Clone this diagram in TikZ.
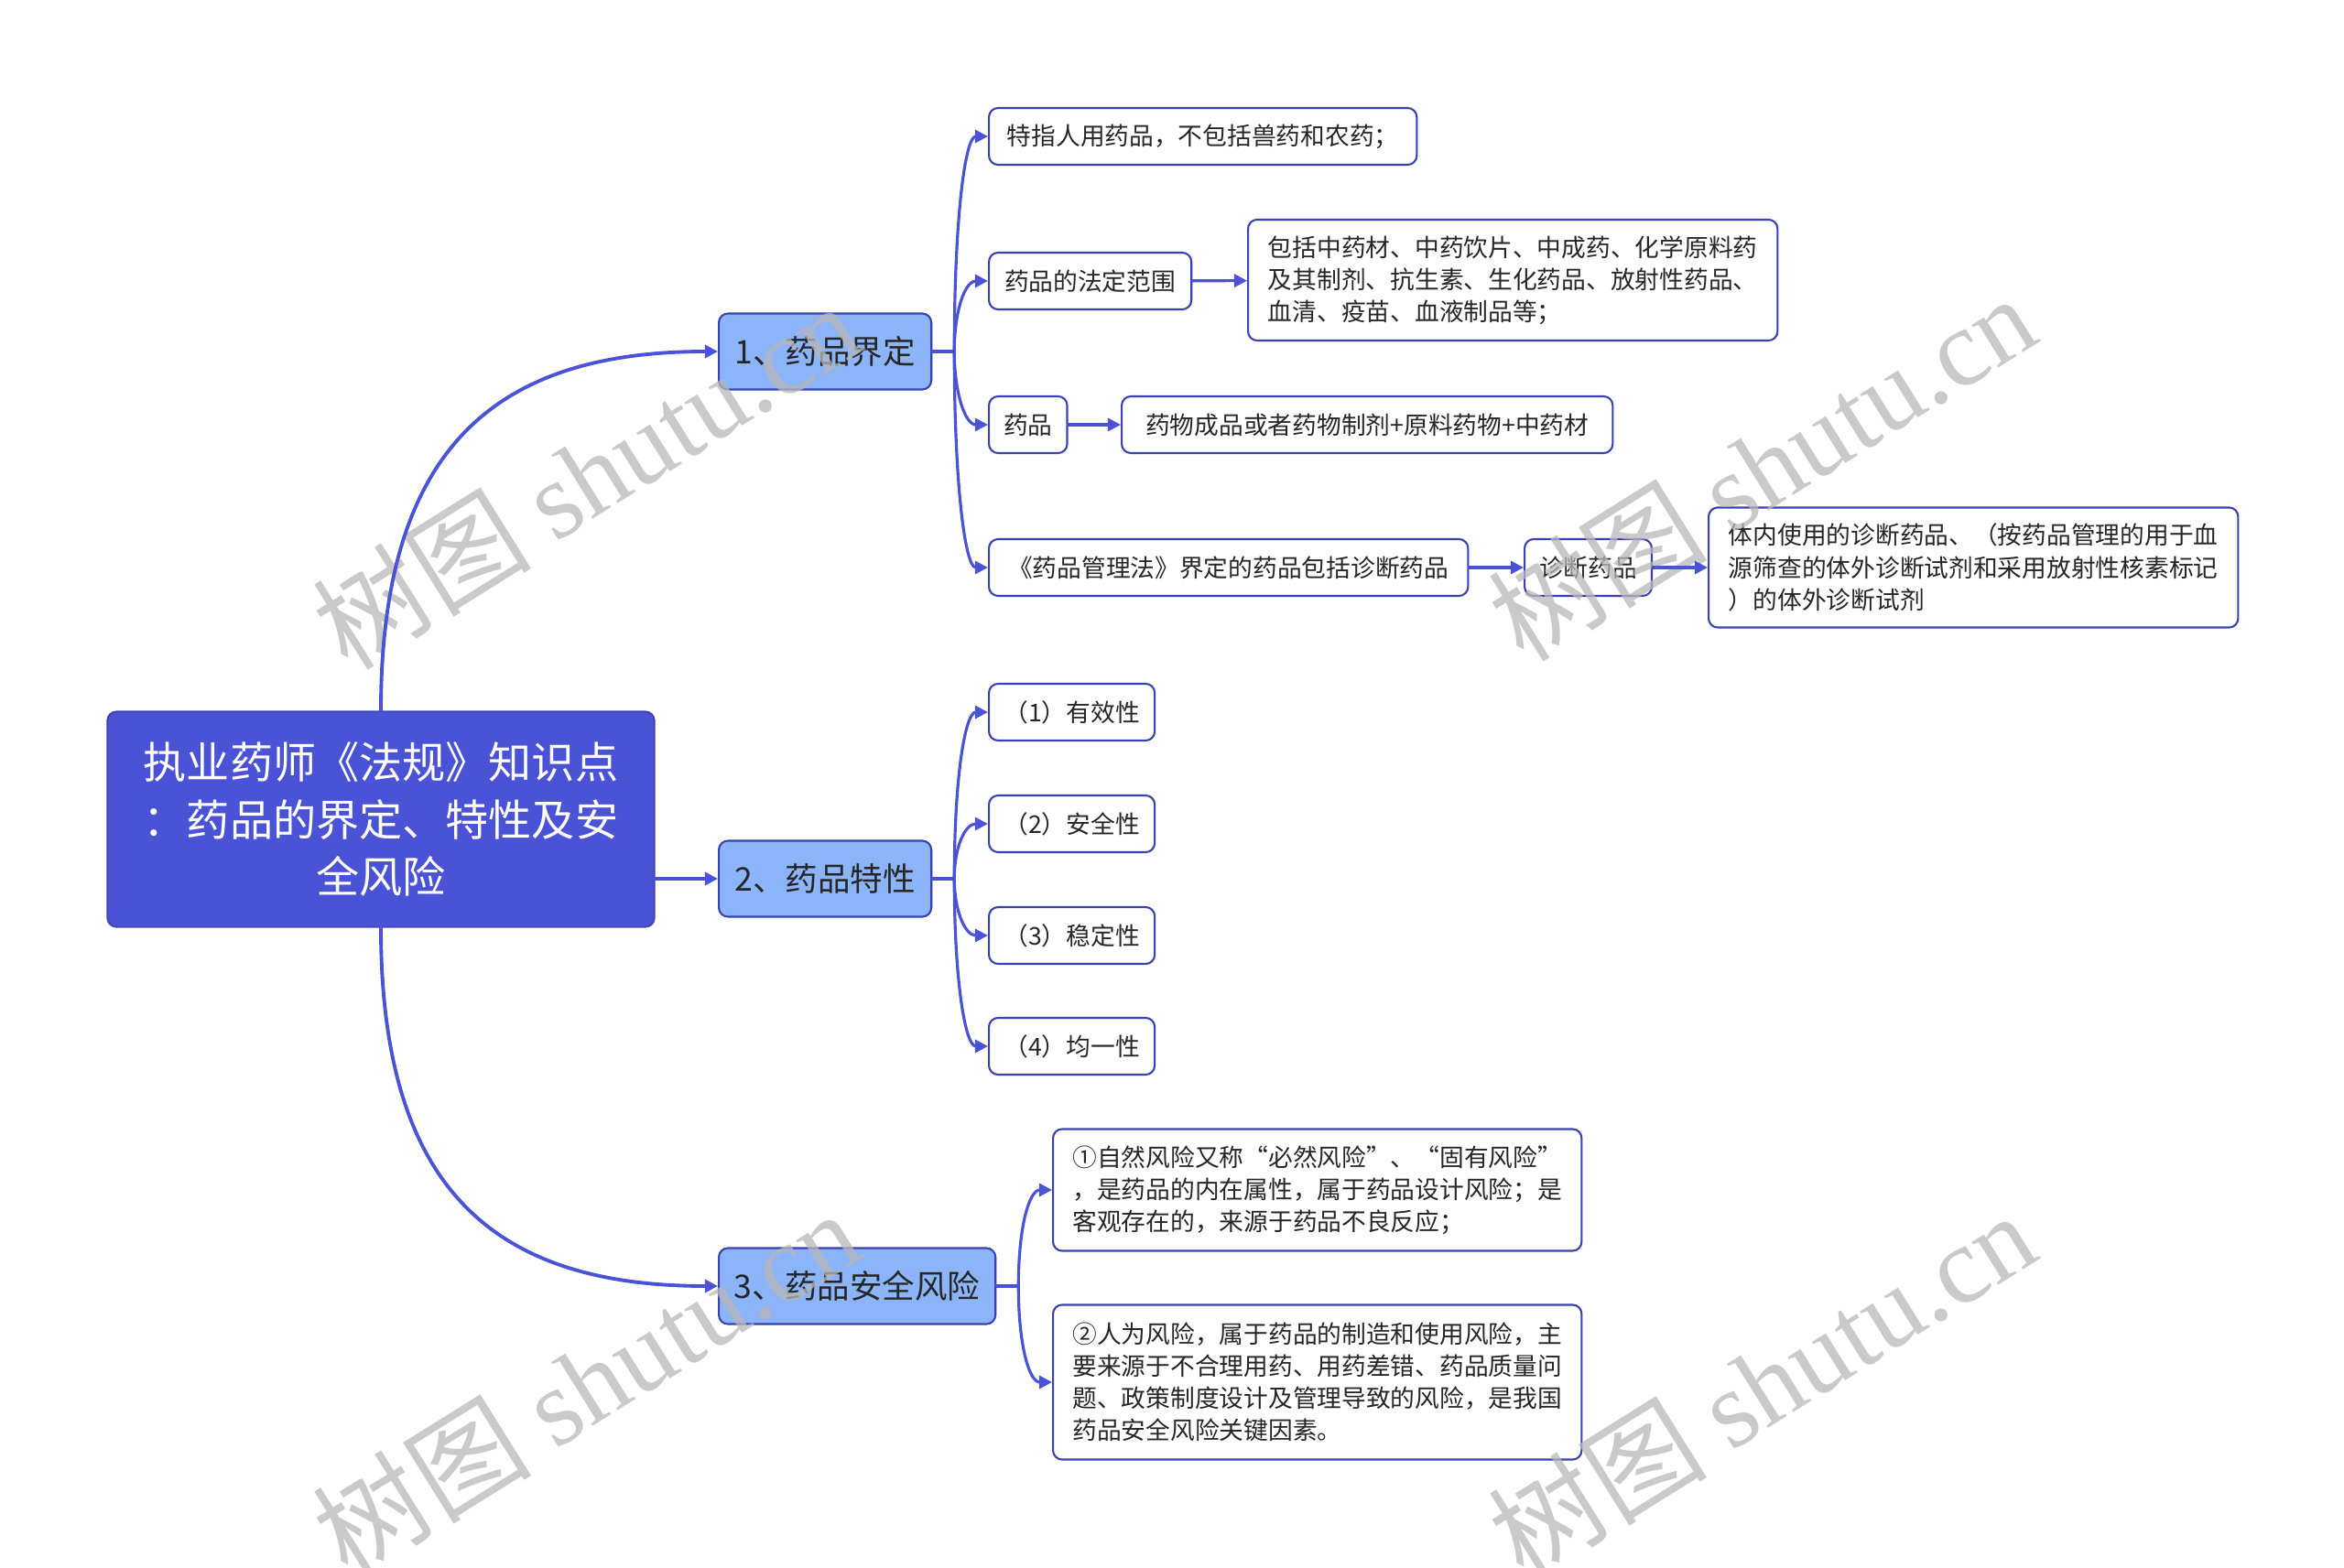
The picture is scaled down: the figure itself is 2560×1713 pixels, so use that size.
\documentclass[tikz,border=0pt]{standalone}
\usepackage{fontspec}
\setmainfont{Noto Sans CJK SC}
\newfontfamily\wmfont{Liberation Serif}
\usetikzlibrary{arrows.meta}
\definecolor{rootblue}{RGB}{74,82,214}
\definecolor{subblue}{RGB}{140,180,248}
\definecolor{edgeblue}{RGB}{58,66,178}
\begin{document}
\begin{tikzpicture}[x=0.01cm,y=-0.01cm,line join=round,line cap=round,
	>={Triangle[length=4pt,width=4pt]},
	link/.style={draw=rootblue,line width=0.9pt},
	twig/.style={out distance=#1,in distance=0.25cm},
	rootbox/.style={fill=rootblue,draw=rootblue!85!black,line width=0.6pt,rounded corners=0.1cm,
		text=white,font=\fontsize{13.4pt}{17.9pt}\selectfont,align=center,
		minimum width=5.97cm,minimum height=2.35cm,inner sep=0pt},
	subbox/.style={fill=subblue,draw=edgeblue,line width=0.6pt,rounded corners=0.1cm,
		text=black!85,font=\fontsize{10.1pt}{12pt}\selectfont,anchor=west,
		minimum height=0.83cm,inner xsep=0.16cm},
	leaf/.style={fill=white,draw=edgeblue,line width=0.6pt,rounded corners=0.1cm,
		text=black!85,font=\fontsize{7.6pt}{10pt}\selectfont,align=left,anchor=west,
		minimum height=0.62cm,inner xsep=0.16cm},
	wm/.style={text=black!28,text opacity=0.75,font=\fontsize{34pt}{36pt}\selectfont,rotate=32}]
	\useasboundingbox (0,0) rectangle (2560,1713);
	\node[rootbox] (root) at (416,895) {执业药师《法规》知识点\\：药品的界定、特性及安\\全风险};
	\node[subbox,minimum width=2.32cm] (b1) at (784,384) {1、药品界定};
	\node[subbox,minimum width=2.32cm] (b2) at (784,960) {2、药品特性};
	\node[subbox,minimum width=3.02cm] (b3) at (784,1405) {3、药品安全风险};
	\node[leaf,minimum width=4.67cm] (c11) at (1079,149) {特指人用药品，不包括兽药和农药；};
	\node[leaf,minimum width=2.21cm] (c12) at (1079,307) {药品的法定范围};
	\node[leaf,minimum width=5.78cm,minimum height=1.32cm] (d12) at (1362,306)
		{包括中药材、中药饮片、中成药、化学原料药\\及其制剂、抗生素、生化药品、放射性药品、\\血清、疫苗、血液制品等；};
	\node[leaf,minimum width=0.83cm] (c13) at (1079,464) {药品};
	\node[leaf,minimum width=5.36cm] (d13) at (1224,464) {药物成品或者药物制剂+原料药物+中药材};
	\node[leaf,minimum width=5.23cm] (c14) at (1079,620) {《药品管理法》界定的药品包括诊断药品};
	\node[leaf,minimum width=1.38cm] (d14) at (1664,620) {诊断药品};
	\node[leaf,minimum width=5.78cm,minimum height=1.31cm] (e14) at (1865,620)
		{体内使用的诊断药品、（按药品管理的用于血\\源筛查的体外诊断试剂和采用放射性核素标记\\）的体外诊断试剂};
	\node[leaf,minimum width=1.81cm] (c21) at (1079,778) {（1）有效性};
	\node[leaf,minimum width=1.81cm] (c22) at (1079,900) {（2）安全性};
	\node[leaf,minimum width=1.81cm] (c23) at (1079,1022) {（3）稳定性};
	\node[leaf,minimum width=1.81cm] (c24) at (1079,1143) {（4）均一性};
	\node[leaf,minimum width=5.77cm,minimum height=1.33cm] (c31) at (1149,1300)
		{①自然风险又称“必然风险”、“固有风险”\\，是药品的内在属性，属于药品设计风险；是\\客观存在的，来源于药品不良反应；};
	\node[leaf,minimum width=5.77cm,minimum height=1.69cm] (c32) at (1149,1510)
		{②人为风险，属于药品的制造和使用风险，主\\要来源于不合理用药、用药差错、药品质量问\\题、政策制度设计及管理导致的风险，是我国\\药品安全风险关键因素。};
	\node[wm] (wm1) at (640,519) {树图 {\wmfont shutu.cn}};
	\node[wm] (wm2) at (1924,510) {树图 {\wmfont shutu.cn}};
	\node[wm] (wm3) at (640,1510) {树图 {\wmfont shutu.cn}};
	\node[wm] (wm4) at (1924,1512) {树图 {\wmfont shutu.cn}};
	\draw[link,->,line width=1.1pt] (root.north) to[out=90,in=180,out distance=2.9cm,in distance=2.4cm] (b1.west);
	\draw[link,->,line width=1.1pt] (root.east |- b2.west) -- (b2.west);
	\draw[link,->,line width=1.1pt] (root.south) to[out=-90,in=180,out distance=2.9cm,in distance=2.4cm] (b3.west);
	\draw[link] (b1.east) -- ++(24,0) coordinate (f1);
	\draw[link] (b2.east) -- ++(24,0) coordinate (f2);
	\draw[link] (b3.east) -- ++(24,0) coordinate (f3);
	\draw[link,->] (f1) to[out=90,in=180,twig=1.45cm] (c11.west);
	\draw[link,->] (f1) to[out=90,in=180,twig=0.45cm] (c12.west);
	\draw[link,->] (f1) to[out=-90,in=180,twig=0.45cm] (c13.west);
	\draw[link,->] (f1) to[out=-90,in=180,twig=1.45cm] (c14.west);
	\draw[link,->] (f2) to[out=90,in=180,twig=1.1cm] (c21.west);
	\draw[link,->] (f2) to[out=90,in=180,twig=0.35cm] (c22.west);
	\draw[link,->] (f2) to[out=-90,in=180,twig=0.35cm] (c23.west);
	\draw[link,->] (f2) to[out=-90,in=180,twig=1.1cm] (c24.west);
	\draw[link,->] (f3) to[out=90,in=180,twig=0.65cm] (c31.west);
	\draw[link,->] (f3) to[out=-90,in=180,twig=0.65cm] (c32.west);
	\draw[link,->] (c12) -- (d12);
	\draw[link,->] (c13) -- (d13);
	\draw[link,->] (c14) -- (d14);
	\draw[link,->] (d14) -- (e14);
\end{tikzpicture}
\end{document}
